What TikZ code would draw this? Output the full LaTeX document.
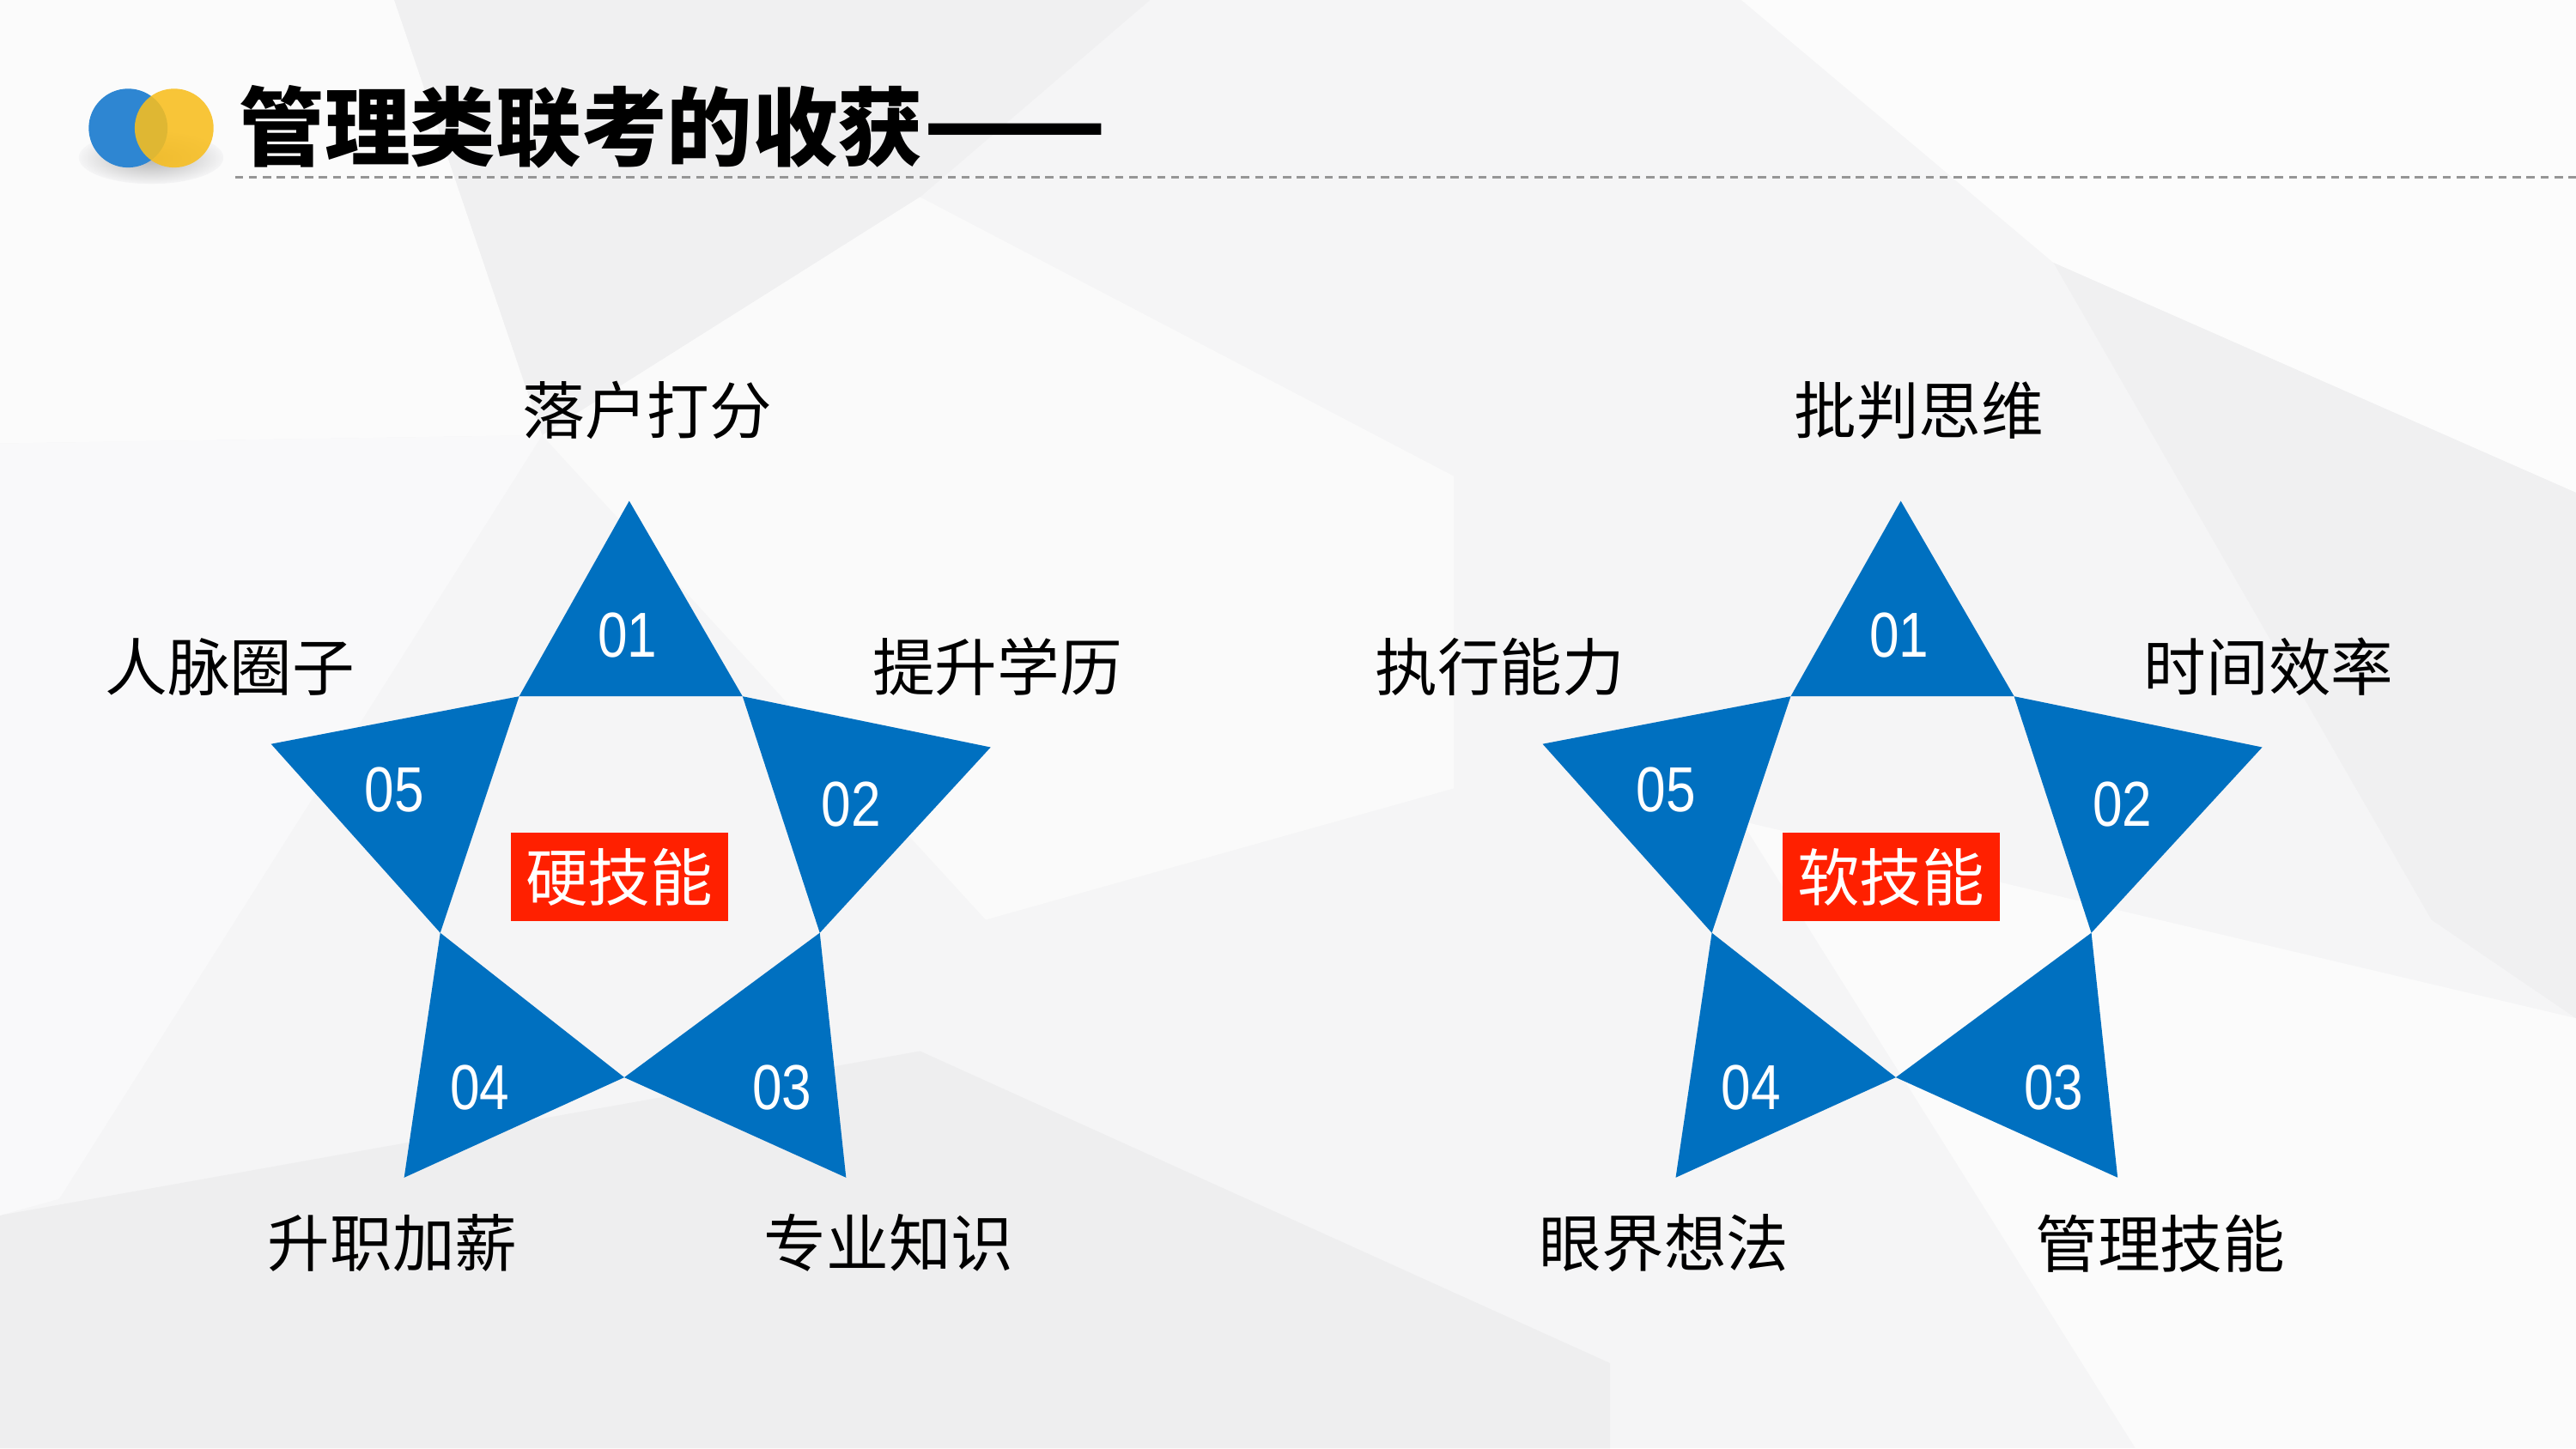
\documentclass[tikz,border=0pt]{standalone}
\usepackage{fontspec}
\setmainfont{Noto Sans CJK SC}
\newfontfamily\numfont[FakeStretch=0.84]{Liberation Sans}
\usetikzlibrary{positioning}
\definecolor{starblue}{RGB}{0,112,192}
\definecolor{boxred}{RGB}{255,32,0}
\definecolor{dotblue}{RGB}{46,134,210}
\definecolor{dotyellow}{RGB}{248,190,30}
\definecolor{bggray}{RGB}{245,245,246}
\definecolor{dashgray}{RGB}{150,150,150}
\tikzset{%
  point/.style={fill=starblue},% blue star point
  skill/.style={inner sep=0pt, text=black, font=\fontsize{10.8}{13}\selectfont},% text round a star
  num/.style={inner sep=0pt, text=white, font=\numfont\fontsize{11}{13}\selectfont},% number in a point
  core/.style={fill=boxred, text=white, inner sep=0pt, minimum width=1.32cm,
    minimum height=0.54cm, font=\fontsize{10.8}{13}\selectfont},% red box in the middle
  facet/.style={draw=none}% background polygon
}
\newcommand*{\skillstar}[1]{% five points, #1 = horizontal offset
  \begin{scope}[shift={(#1,0)}]
    \fill[point] (383,305) -- (316,424) -- (452,424) -- cycle;
    \fill[point] (603,455) -- (452,424) -- (499,568) -- cycle;
    \fill[point] (515,717) -- (499,568) -- (380,656) -- cycle;
    \fill[point] (246,717) -- (380,656) -- (268,568) -- cycle;
    \fill[point] (165,453) -- (268,568) -- (316,424) -- cycle;
  \end{scope}}

\begin{document}
\begin{tikzpicture}[x=0.01cm, y=-0.01cm]
\useasboundingbox (0,0) rectangle (1568,882);
% background
\fill[bggray] (0,0) rectangle (1568,882);
\fill[facet, white!60!bggray] (0,0) -- (240,0) -- (330,265) -- (0,270) -- cycle;
\fill[facet, black!2!bggray] (240,0) -- (700,0) -- (560,120) -- (330,265) -- cycle;
\fill[facet, white!50!bggray] (330,265) -- (560,120) -- (885,290) -- (885,480) -- (600,560) -- cycle;
\fill[facet, white!70!bggray] (1060,0) -- (1568,0) -- (1568,300) -- (1250,160) -- cycle;
\fill[facet, black!2!bggray] (1250,160) -- (1568,300) -- (1568,620) -- (1480,560) -- cycle;
\fill[facet, black!3!bggray] (0,740) -- (560,640) -- (980,830) -- (980,882) -- (0,882) -- cycle;
\fill[facet, white!60!bggray] (1060,500) -- (1568,620) -- (1568,882) -- (1300,882) -- cycle;
\fill[facet, white!40!bggray] (0,270) -- (330,265) -- (36,730) -- (0,740) -- cycle;

% title
\shade[inner color=black!30, outer color=bggray] (92,96) ellipse (44 and 16);
\fill[dotblue] (78,78) circle (24);
\fill[dotyellow, opacity=0.88] (106,78) circle (24);
\node[anchor=west, inner sep=0pt, font=\bfseries\fontsize{14.8}{17}\selectfont] (title) at (145,77) {管理类联考的收获\scalebox{1.25}[1.2]{——}};
\coordinate (rule-l) at (143,108);
\coordinate (rule-r) at (1568,108);
\draw[dashgray, line width=0.5pt, dash pattern=on 0.05cm off 0.035cm] (rule-l) -- (rule-r);

% hard skills
\skillstar{0}
\node[core] (hard) at (377,534) {硬技能};
\node[num] (h1) at (382,387) {01};
\node[num] (h2) at (518,490) {02};
\node[num] (h3) at (476,662) {03};
\node[num] (h4) at (292,662) {04};
\node[num] (h5) at (240,481) {05};
\node[skill] (settle) at (394,250) {落户打分};
\node[skill] (degree) at (607,406) {提升学历};
\node[skill] (expert) at (541,757) {专业知识};
\node[skill] (salary) at (239,757) {升职加薪};
\node[skill] (contacts) at (140,406) {人脉圈子};

% soft skills
\skillstar{774}
\node[core] (soft) at (1151,534) {软技能};
\node[num] (s1) at (1156,387) {01};
\node[num] (s2) at (1292,490) {02};
\node[num] (s3) at (1250,662) {03};
\node[num] (s4) at (1066,662) {04};
\node[num] (s5) at (1014,481) {05};
\node[skill] (critical) at (1168,250) {批判思维};
\node[skill] (timing) at (1381,406) {时间效率};
\node[skill] (manage) at (1315,757) {管理技能};
\node[skill] (vision) at (1013,757) {眼界想法};
\node[skill] (execute) at (913,406) {执行能力};
\end{tikzpicture}
\end{document}
